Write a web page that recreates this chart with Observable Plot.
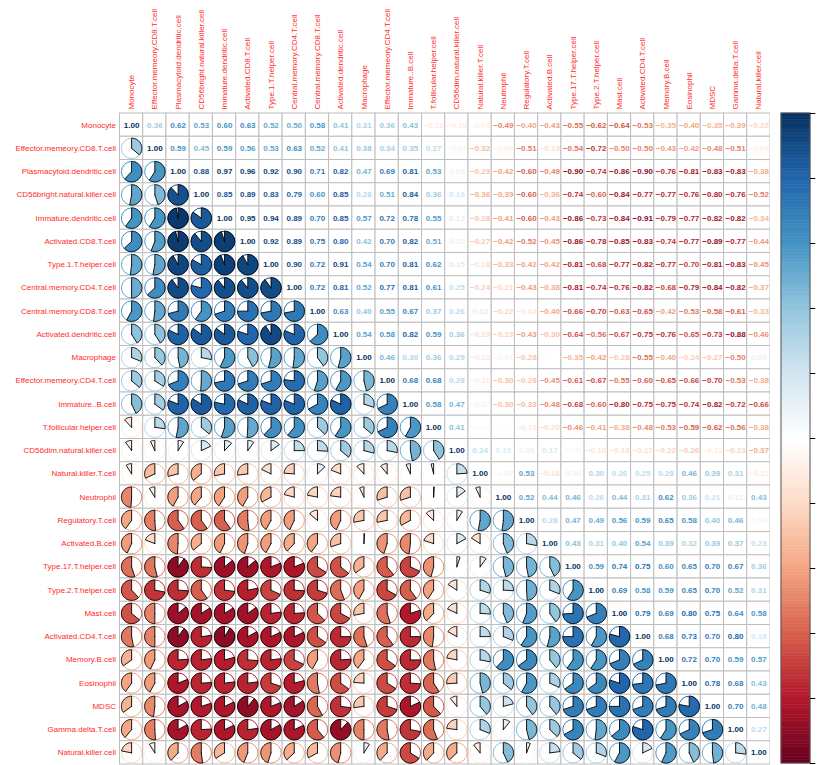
<!DOCTYPE html>
<html><head><meta charset="utf-8">
<script src="https://cdn.jsdelivr.net/npm/d3@7"></script>
<script src="https://cdn.jsdelivr.net/npm/@observablehq/plot@0.6"></script>
<style>
body{margin:0;background:#fff}
#wrap{display:flex;width:826px;height:765px;background:#fff}
</style>
</head><body><div id="wrap"></div>
<script>
const labels = ["Monocyte","Effector.memeory.CD8.T.cell","Plasmacytoid.dendritic.cell","CD56bright.natural.killer.cell","Immature.dendritic.cell","Activated.CD8.T.cell","Type.1.T.helper.cell","Central.memory.CD4.T.cell","Central.memory.CD8.T.cell","Activated.dendritic.cell","Macrophage","Effector.memeory.CD4.T.cell","Immature..B.cell","T.follicular.helper.cell","CD56dim.natural.killer.cell","Natural.killer.T.cell","Neutrophil","Regulatory.T.cell","Activated.B.cell","Type.17.T.helper.cell","Type.2.T.helper.cell","Mast.cell","Activated.CD4.T.cell","Memory.B.cell","Eosinophil","MDSC","Gamma.delta.T.cell","Natural.killer.cell"];

// upper-triangle rows: row i lists correlations for columns i..27
const row00 = [1.00,0.36,0.62,0.53,0.60,0.63,0.52,0.50,0.58,0.41,0.31,0.36,0.43,-0.12,-0.10,-0.09,-0.49,-0.40,-0.43,-0.55,-0.62,-0.64,-0.53,-0.35,-0.40,-0.35,-0.39,-0.22];
const row01 = [1.00,0.59,0.45,0.59,0.56,0.53,0.63,0.52,0.41,0.38,0.34,0.35,0.27,-0.07,-0.32,-0.09,-0.51,-0.19,-0.54,-0.72,-0.50,-0.50,-0.43,-0.42,-0.48,-0.51,-0.09];
const row02 = [1.00,0.88,0.97,0.96,0.92,0.90,0.71,0.82,0.47,0.69,0.81,0.53,0.09,-0.29,-0.42,-0.60,-0.49,-0.90,-0.74,-0.86,-0.90,-0.76,-0.81,-0.83,-0.83,-0.38];
const row03 = [1.00,0.85,0.89,0.83,0.79,0.60,0.85,0.28,0.51,0.84,0.36,0.18,-0.36,-0.39,-0.60,-0.36,-0.74,-0.60,-0.84,-0.77,-0.77,-0.76,-0.80,-0.76,-0.52];
const row04 = [1.00,0.95,0.94,0.89,0.70,0.85,0.57,0.72,0.78,0.55,0.12,-0.28,-0.41,-0.60,-0.43,-0.86,-0.73,-0.84,-0.91,-0.79,-0.77,-0.82,-0.82,-0.34];
const row05 = [1.00,0.92,0.89,0.75,0.80,0.42,0.70,0.82,0.51,0.10,-0.27,-0.42,-0.52,-0.45,-0.86,-0.78,-0.85,-0.83,-0.74,-0.77,-0.89,-0.77,-0.44];
const row06 = [1.00,0.90,0.72,0.91,0.54,0.70,0.81,0.62,0.15,-0.18,-0.33,-0.42,-0.42,-0.81,-0.68,-0.77,-0.82,-0.77,-0.70,-0.81,-0.83,-0.45];
const row07 = [1.00,0.72,0.81,0.52,0.77,0.81,0.61,0.25,-0.24,-0.21,-0.43,-0.38,-0.81,-0.74,-0.76,-0.82,-0.68,-0.79,-0.84,-0.82,-0.37];
const row08 = [1.00,0.63,0.40,0.55,0.67,0.37,0.26,0.13,-0.22,-0.14,-0.40,-0.66,-0.70,-0.63,-0.65,-0.42,-0.53,-0.58,-0.61,-0.33];
const row09 = [1.00,0.54,0.58,0.82,0.59,0.36,-0.19,-0.23,-0.43,-0.30,-0.64,-0.56,-0.67,-0.75,-0.76,-0.65,-0.73,-0.88,-0.46];
const row10 = [1.00,0.46,0.30,0.36,0.29,-0.12,-0.07,-0.28,0.01,-0.35,-0.42,-0.28,-0.55,-0.40,-0.24,-0.27,-0.50,0.09];
const row11 = [1.00,0.68,0.68,0.28,-0.11,-0.30,-0.28,-0.45,-0.61,-0.67,-0.55,-0.60,-0.65,-0.66,-0.70,-0.53,-0.38];
const row12 = [1.00,0.58,0.47,-0.07,-0.30,-0.33,-0.48,-0.68,-0.60,-0.80,-0.75,-0.75,-0.74,-0.82,-0.72,-0.66];
const row13 = [1.00,0.41,-0.04,0.01,-0.13,-0.20,-0.46,-0.41,-0.38,-0.48,-0.53,-0.59,-0.62,-0.56,-0.38];
const row14 = [1.00,0.24,0.15,0.09,0.17,0.05,-0.16,-0.18,-0.17,-0.22,-0.26,-0.11,-0.23,-0.37];
const row15 = [1.00,-0.07,0.53,-0.16,0.10,0.30,0.26,0.25,0.28,0.46,0.39,0.31,-0.11];
const row16 = [1.00,0.52,0.44,0.46,0.26,0.44,0.31,0.62,0.36,0.21,0.11,0.43];
const row17 = [1.00,0.28,0.47,0.49,0.56,0.59,0.65,0.58,0.40,0.46,0.06];
const row18 = [1.00,0.43,0.31,0.40,0.54,0.39,0.32,0.39,0.37,0.23];
const row19 = [1.00,0.59,0.74,0.75,0.60,0.65,0.70,0.67,0.36];
const row20 = [1.00,0.69,0.58,0.59,0.65,0.70,0.52,0.31];
const row21 = [1.00,0.79,0.69,0.80,0.75,0.64,0.58];
const row22 = [1.00,0.68,0.73,0.70,0.80,0.18];
const row23 = [1.00,0.72,0.70,0.59,0.57];
const row24 = [1.00,0.78,0.68,0.43];
const row25 = [1.00,0.70,0.48];
const row26 = [1.00,0.27];
const row27 = [1.00];
const colorbarTicks = [-1,-0.8,-0.6,-0.4,-0.2,0,0.2,0.4,0.6,0.8,1];
const palette = ["#67001F","#B2182B","#D6604D","#F4A582","#FDDBC7","#FFFFFF","#D1E5F0","#92C5DE","#4393C3","#2166AC","#053061"];

const rows = [row00,row01,row02,row03,row04,row05,row06,row07,row08,row09,row10,row11,row12,row13,row14,row15,row16,row17,row18,row19,row20,row21,row22,row23,row24,row25,row26,row27];
const n = labels.length;
const M = d3.range(n).map(() => new Array(n).fill(0));
rows.forEach((row, i) => row.forEach((v, k) => { M[i][i + k] = v; M[i + k][i] = v; }));

const cells = [];
for (let i = 0; i < n; i++) for (let j = 0; j < n; j++) cells.push({i, j, r: M[i][j]});
const upper = cells.filter(d => d.j >= d.i);
const lower = cells.filter(d => d.j < d.i);

const R = 0.44;
const wedges = [];
lower.forEach((d, id) => {
  const a = Math.abs(d.r), s = Math.sign(d.r) || 1;
  const steps = Math.max(2, Math.ceil(a * 90));
  const cx = d.j + 0.5, cy = d.i + 0.5;
  wedges.push({id, r: d.r, x: cx, y: cy});
  for (let k = 0; k <= steps; k++) {
    const t = (k / steps) * a * 2 * Math.PI;
    wedges.push({id, r: d.r, x: cx + s * R * Math.sin(t), y: cy - R * Math.cos(t)});
  }
  wedges.push({id, r: d.r, x: cx, y: cy});
});

const colorOpts = {type: "linear", domain: [-1, 1], interpolate: d3.piecewise(d3.interpolateRgb, palette)};
const fmt = d3.format(".2f");
const font = "'Liberation Sans', Arial, Helvetica, sans-serif";

const main = Plot.plot({
  width: 770, height: 765,
  marginLeft: 119.5, marginRight: 0, marginTop: 113, marginBottom: 1,
  x: {domain: [0, n], range: [119.5, 770], axis: null},
  y: {domain: [0, n], range: [113, 764], axis: null},
  color: colorOpts,
  style: {fontFamily: font, background: "white"},
  marks: [
    Plot.rect(cells, {x1: "j", x2: d => d.j + 1, y1: "i", y2: d => d.i + 1, fill: "white", stroke: "#bebebe", strokeWidth: 1}),
    Plot.dot(lower, {x: d => d.j + 0.5, y: d => d.i + 0.5, r: 10.2, fill: "white", stroke: "r", strokeWidth: 1}),
    Plot.line(wedges, {x: "x", y: "y", z: "id", fill: "r", stroke: "black", strokeWidth: 0.9, curve: "linear", strokeLinejoin: "miter"}),
    Plot.text(upper, {x: d => d.j + 0.5, y: d => d.i + 0.5, text: d => fmt(d.r), fill: "r", fontSize: 8, fontWeight: "bold"}),
    Plot.text(labels, {x: () => 0, y: (d, i) => i + 0.5, text: d => d, dx: -4, textAnchor: "end", fill: "#ff2a2a", fontSize: 8}),
    Plot.text(labels, {x: (d, i) => i + 0.5, y: () => 0, text: d => d, dy: -4, rotate: -90, textAnchor: "start", fill: "#ff2a2a", fontSize: 8})
  ]
});

const steps = d3.range(200).map(k => -1 + k * 0.01);
const bar = Plot.plot({
  width: 56, height: 765, margin: 0,
  x: {domain: [0, 1], range: [11, 40], axis: null},
  y: {domain: [-1, 1], range: [763, 113], axis: null},
  color: colorOpts,
  style: {fontFamily: font, background: "white"},
  marks: [
    Plot.rect(steps, {x1: () => 0, x2: () => 1, y1: d => d, y2: d => d + 0.01, fill: d => d + 0.005, stroke: d => d + 0.005, strokeWidth: 0.5}),
    Plot.rect([0], {x1: () => 0, x2: () => 1, y1: () => -1, y2: () => 1, fill: "none", stroke: "#555", strokeWidth: 1}),
    Plot.ruleY(colorbarTicks, {y: d => d, x1: () => 1, x2: () => 1.18, stroke: "black", strokeWidth: 1})
  ]
});

const wrap = document.getElementById("wrap");
wrap.appendChild(main);
wrap.appendChild(bar);
</script>
</body></html>
